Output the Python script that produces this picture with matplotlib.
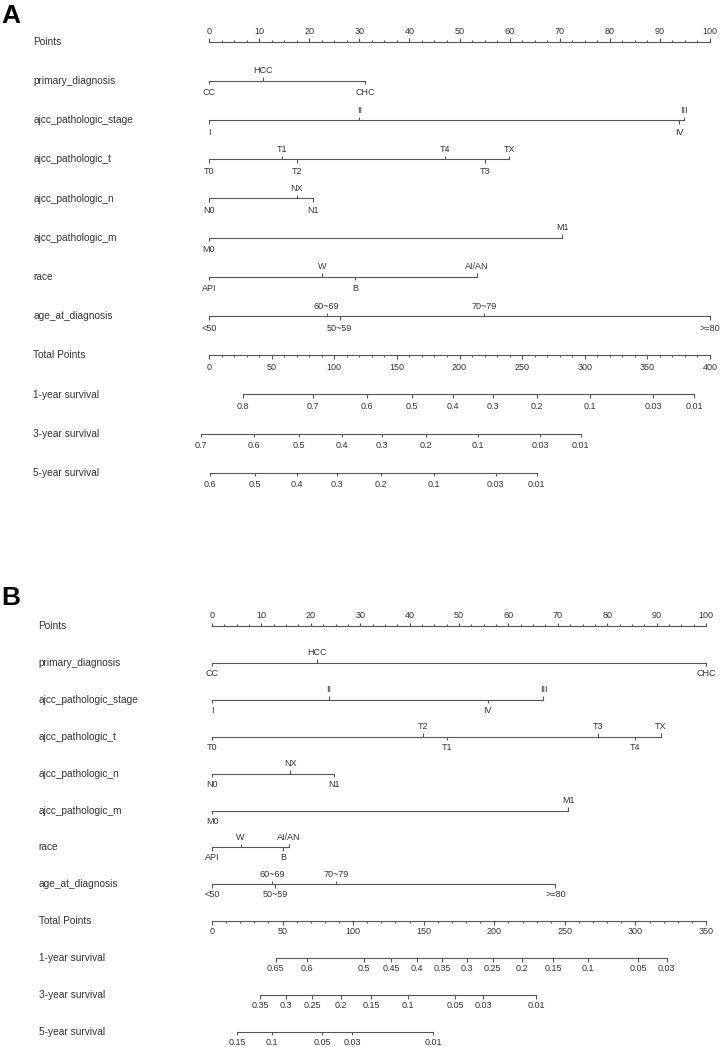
import matplotlib
matplotlib.use("Agg")
import matplotlib.pyplot as plt

plt.rcParams['font.family'] = ['Liberation Sans', 'DejaVu Sans']

W, H = 722, 1047

rowNames = ["Points", "primary_diagnosis", "ajcc_pathologic_stage", "ajcc_pathologic_t",
            "ajcc_pathologic_n", "ajcc_pathologic_m", "race", "age_at_diagnosis",
            "Total Points", "1-year survival", "3-year survival", "5-year survival"]

# ---- panel A : (level, points) ----
a_diagnosis = [("CC", 0), ("HCC", 10.8), ("CHC", 31.1)]
a_stage = [("I", 0), ("II", 30.0), ("IV", 93.8), ("III", 94.8)]
a_t = [("T0", 0), ("T1", 14.6), ("T2", 17.5), ("T4", 47.1), ("T3", 55.1), ("TX", 59.9)]
a_n = [("N0", 0), ("NX", 17.5), ("N1", 20.8)]
a_m = [("M0", 0), ("M1", 70.5)]
a_race = [("API", 0), ("W", 22.5), ("B", 29.1), ("AI/AN", 53.5)]
a_age = [("<50", 0), ("60~69", 23.5), ("50~59", 26.1), ("70~79", 54.9), (">=80", 100)]
a_totalMax = 400
# (survival probability, total points)
a_surv1 = [(0.8, 27.4), (0.7, 83.3), (0.6, 125.9), (0.5, 162.3), (0.4, 194.6), (0.3, 227.0),
           (0.2, 261.6), (0.1, 304.2), (0.03, 354.8), (0.01, 387.2)]
a_surv3 = [(0.7, -6.6), (0.6, 35.9), (0.5, 72.1), (0.4, 106.0), (0.3, 138.4), (0.2, 173.0),
           (0.1, 214.5), (0.03, 264.3), (0.01, 296.9)]
a_surv5 = [(0.6, 0.8), (0.5, 36.7), (0.4, 70.5), (0.3, 102.4), (0.2, 137.3), (0.1, 179.9),
           (0.03, 228.9), (0.01, 261.6)]

# ---- panel B ----
b_diagnosis = [("CC", 0), ("HCC", 21.2), ("CHC", 100)]
b_stage = [("I", 0), ("II", 23.7), ("IV", 55.8), ("III", 67.1)]
b_t = [("T0", 0), ("T2", 42.8), ("T1", 47.6), ("T3", 78.1), ("T4", 85.6), ("TX", 90.8)]
b_n = [("N0", 0), ("NX", 15.8), ("N1", 24.7)]
b_m = [("M0", 0), ("M1", 72.1)]
b_race = [("API", 0), ("W", 5.8), ("B", 14.4), ("AI/AN", 15.6)]
b_age = [("<50", 0), ("60~69", 12.1), ("50~59", 12.8), ("70~79", 25.1), (">=80", 69.5)]
b_totalMax = 350
b_surv1 = [(0.65, 45.1), (0.6, 67.5), (0.5, 107.9), (0.45, 126.8), (0.4, 145.2), (0.35, 163.2),
           (0.3, 180.9), (0.25, 198.9), (0.2, 219.6), (0.15, 241.6), (0.1, 266.6),
           (0.05, 302.0), (0.03, 322.2)]
b_surv3 = [(0.35, 34.0), (0.3, 52.2), (0.25, 71.1), (0.2, 91.2), (0.15, 112.7), (0.1, 138.6),
           (0.05, 172.2), (0.03, 192.3), (0.01, 229.6)]
b_surv5 = [(0.15, 17.7), (0.1, 42.5), (0.05, 77.9), (0.03, 99.2), (0.01, 156.8)]

lineCol = '#555555'
textCol = '#333333'
lw = 0.8
fsRow = 7.3
fsTick = 6.5

fig = plt.figure(figsize=(W / 100., H / 100.), dpi=100)


def make_axes(top, bottom, x0px, pxPerPt, y0px, pxPerRow):
	""" axes in (points, row) units placed on the figure pixel grid """
	ax = fig.add_axes([0, 1 - bottom / float(H), 1, (bottom - top) / float(H)])
	ax.set_xlim(-x0px / pxPerPt, (W - x0px) / pxPerPt)
	ax.set_ylim((bottom - y0px) / pxPerRow, (top - y0px) / pxPerRow)
	ax.axis('off')
	return ax


def tick(ax, x, y, lenPx, up, pxPerRow):
	d = lenPx / pxPerRow
	ax.plot([x, x], [y, y - d if up else y + d], color=lineCol, lw=lw, solid_capstyle='butt')


def label(ax, x, y, s, up, below=12):
	off = 10 * 0.72 if up else -below * 0.72
	ax.annotate(s, (x, y), xytext=(0, off), textcoords='offset points', ha='center', va='center',
		fontsize=fsTick, color=textCol)


def draw_panel(ax, variables, totalMax, survivals, pxPerRow, below):
	for i, name in enumerate(rowNames):
		ax.text(-35.1, i, name, ha='left', va='center', fontsize=fsRow, color=textCol)

	""" points scale """
	ax.plot([0, 100], [0, 0], color=lineCol, lw=lw)
	for k in range(41):
		x = k * 2.5
		if k % 4 == 0:
			tick(ax, x, 0, 3.5, True, pxPerRow)
			label(ax, x, 0, "%d" % x, True)
		else:
			tick(ax, x, 0, 2, True, pxPerRow)

	""" variables, labels alternate below/above """
	for i, levels in enumerate(variables):
		y = i + 1
		levels = sorted(levels, key=lambda l: l[1])
		xs = [l[1] for l in levels]
		ax.plot([min(xs), max(xs)], [y, y], color=lineCol, lw=lw)
		for k, (lev, x) in enumerate(levels):
			up = k % 2 == 1
			tick(ax, x, y, 3.5, up, pxPerRow)
			label(ax, x, y, lev, up, below)

	""" total points """
	y = 8
	scale = 100. / totalMax
	ax.plot([0, 100], [y, y], color=lineCol, lw=lw)
	for v in range(0, totalMax + 1, 10):
		if v % 50 == 0:
			tick(ax, v * scale, y, 3.5, False, pxPerRow)
			label(ax, v * scale, y, "%d" % v, False, below)
		else:
			tick(ax, v * scale, y, 2, False, pxPerRow)

	""" survival scales """
	for j, surv in enumerate(survivals):
		y = 9 + j
		xs = [s[1] * scale for s in surv]
		ax.plot([min(xs), max(xs)], [y, y], color=lineCol, lw=lw)
		for p, tp in surv:
			tick(ax, tp * scale, y, 3.5, False, pxPerRow)
			label(ax, tp * scale, y, "%g" % p, False, below)


axA = make_axes(0, 510, 209., 5.01, 41.7, 39.2)
draw_panel(axA, [a_diagnosis, a_stage, a_t, a_n, a_m, a_race, a_age], a_totalMax,
	[a_surv1, a_surv3, a_surv5], 39.2, 12)

axB = make_axes(510, H, 212., 4.94, 626., 36.9)
draw_panel(axB, [b_diagnosis, b_stage, b_t, b_n, b_m, b_race, b_age], b_totalMax,
	[b_surv1, b_surv3, b_surv5], 36.9, 10.5)

fig.text(1. / W, 1 - 16. / H, "A", fontsize=19, fontweight='bold', ha='left', va='center')
fig.text(1. / W, 1 - 598. / H, "B", fontsize=19, fontweight='bold', ha='left', va='center')

fig.savefig("out.png", dpi=100)
